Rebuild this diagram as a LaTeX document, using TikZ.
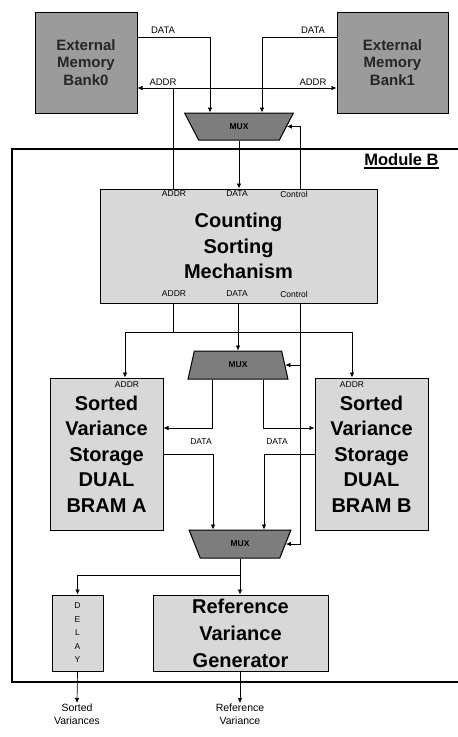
\documentclass[tikz,border=0pt]{standalone}
\usepackage{fontspec}
\setmainfont{Liberation Sans}
\usepackage{xcolor}
\usepackage{tikz}
\usetikzlibrary{arrows.meta,calc,shapes.geometric}
\definecolor{bankgray}{RGB}{155,155,155}
\definecolor{muxgray}{RGB}{125,125,125}
\definecolor{boxgray}{RGB}{216,216,216}

\begin{document}
\begin{tikzpicture}[
  x=1pt, y=-1pt,
  line width=0.7pt,
  arr/.style={-{Latex[length=5pt,width=4.5pt]}},
  arrtwo/.style={{Latex[length=5pt,width=4.5pt]}-{Latex[length=5pt,width=4.5pt]}},
  bank/.style={rectangle, draw, line width=1pt, fill=bankgray, inner sep=0pt, align=center, text=black!85,
    font=\fontsize{15}{17.5}\selectfont\bfseries},
  box/.style={rectangle, draw, line width=1pt, fill=boxgray, inner sep=0pt, align=center,
    font=\fontsize{20}{25.5}\selectfont\bfseries},
  mux/.style={trapezium, trapezium stretches=true, draw, line width=1pt, fill=muxgray, inner sep=0pt,
    font=\fontsize{8.5}{9}\selectfont\bfseries},
  sig/.style={inner sep=1pt, font=\fontsize{9.5}{10}\selectfont},
  small/.style={inner sep=1pt, font=\fontsize{8.5}{9}\selectfont},
  outlbl/.style={inner sep=1pt, align=center, font=\fontsize{10.5}{13}\selectfont}
]
  \useasboundingbox (0,0) rectangle (458,737);

  % memory banks and first mux
  \node[bank, minimum width=102pt, minimum height=101pt] (bank0) at (86,62.5) {External\\Memory\\Bank0};
  \node[bank, minimum width=111pt, minimum height=101pt] (bank1) at (392.5,62.5) {External\\Memory\\Bank1};
  \node[mux, shape border rotate=180, minimum width=109pt, minimum height=27pt,
    trapezium left angle=61, trapezium right angle=61] (muxA) at (239,126.5) {MUX};

  % module frame
  \draw[line width=2.4pt] (462,149) -- (12,149) -- (12,682) -- (462,682);
  \node[inner sep=0pt, anchor=base east, font=\fontsize{16.5}{18}\selectfont\bfseries] (modlbl) at (439,165) {Module B};
  \draw[line width=1.6pt] ([yshift=-3pt]modlbl.base west) -- ([yshift=-3pt]modlbl.base east);

  \node[box, minimum width=277pt, minimum height=114pt] (count) at (238.5,246) {Counting\\Sorting\\Mechanism};
  \node[mux, minimum width=100pt, minimum height=28pt,
    trapezium left angle=77, trapezium right angle=77] (muxB) at (238,365) {MUX};
  \node[box, minimum width=113pt, minimum height=152pt] (bramA) at (106.5,454) {Sorted\\Variance\\Storage\\DUAL\\BRAM A};
  \node[box, minimum width=113pt, minimum height=152pt] (bramB) at (371.5,454) {Sorted\\Variance\\Storage\\DUAL\\BRAM B};
  \node[mux, shape border rotate=180, minimum width=102pt, minimum height=28pt,
    trapezium left angle=66, trapezium right angle=66] (muxC) at (240,544) {MUX};
  \node[box, minimum width=51pt, minimum height=76pt, font=\fontsize{8.5}{13.5}\selectfont] (delay) at (77.5,633) {D\\E\\L\\A\\Y};
  \node[box, minimum width=175pt, minimum height=76pt, font=\fontsize{20}{27}\selectfont\bfseries] (ref) at (240.5,633) {Reference\\Variance\\Generator};
  \node[outlbl, anchor=north] (outS) at (77,703) {Sorted\\Variances};
  \node[outlbl, anchor=north] (outR) at (240,703) {Reference\\Variance};

  % signal labels
  \node[sig] (d0) at (163,30) {DATA};
  \node[sig] (d1) at (313,30) {DATA};
  \node[sig] (a0) at (163,82) {ADDR};
  \node[sig] (a1) at (313,82) {ADDR};
  \node[small] (cta) at (174,194) {ADDR};
  \node[small] (ctd) at (237,194) {DATA};
  \node[small] (ctc) at (294,194) {Control};
  \node[small] (cba) at (174,294) {ADDR};
  \node[small] (cbd) at (237,294) {DATA};
  \node[small] (cbc) at (294,294) {Control};
  \node[small] (ba) at (127,385) {ADDR};
  \node[small] (bb) at (352,385) {ADDR};
  \node[small] (dA) at (201,442) {DATA};
  \node[small] (dB) at (277,442) {DATA};

  % connections
  \draw[arr] (bank0.east |- 0,37) -| (muxA.north -| 210,0);
  \draw[arr] (bank1.west |- 0,37) -| (muxA.north -| 262,0);
  \draw[arrtwo] (bank0.east |- 0,88) -- (bank1.west |- 0,88);
  \draw (count.north -| 173,0) -- (173,88);
  \draw[arr] (muxA.south) -- (count.north -| muxA.south);
  \draw[arr] (count.north -| 300,0) |- (muxA.east);

  \draw[arr] (count.south -| 173,0) -- (173,332) -| (bramA.north -| 125,0);
  \draw[arr] (173,332) -| (bramB.north -| 352,0);
  \draw[arr] (count.south -| muxB.north) -- (muxB.north);
  \draw[arr] (count.south -| 300,0) |- (muxB.east);
  \draw[arr] (300,365) |- (muxC.east);
  \draw[arr] (muxB.south -| 212,0) |- (bramA.east |- 0,428);
  \draw[arr] (muxB.south -| 263,0) |- (bramB.west |- 0,428);
  \draw[arr] (bramA.east |- 0,454) -| (muxC.north -| 213,0);
  \draw[arr] (bramB.west |- 0,454) -| (muxC.north -| 264,0);
  \draw[arr] (muxC.south) -- (ref.north -| muxC.south);
  \draw[arr] (muxC.south |- 0,575) -| (delay.north);
  \draw[arr] (delay.south) -- (outS.north);
  \draw[arr] (ref.south -| outR.north) -- (outR.north);
\end{tikzpicture}
\end{document}
